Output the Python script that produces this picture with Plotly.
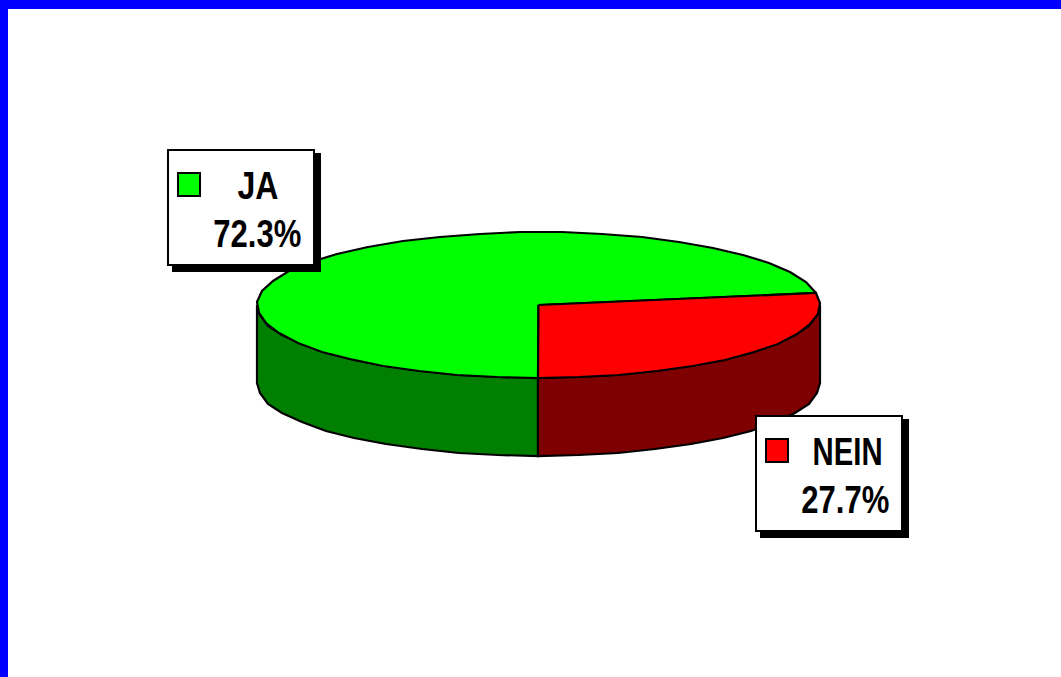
import numpy as np
import plotly.graph_objects as go

categories = ["JA", "NEIN"]
shares = [72.3, 27.7]
labels = ["72.3%", "27.7%"]
top_colors = ["#00FF00", "#FF0000"]
side_colors = ["#007F00", "#7F0000"]

W, H = 1061, 677
CX, CY, RX, RY, DEPTH = 538.5, 305.0, 281.5, 73.0, 78.0
FONT = "Liberation Sans"
STEPS_PER_TURN = 44
LINE_W = 2.2


def arc(start, end):
    n = max(2, int(abs(end - start) / 360 * STEPS_PER_TURN) + 1)
    t = np.radians(np.linspace(start, end, n))
    return np.round(CX + RX * np.cos(t)), np.round(CY + RY * np.sin(t))


red_sweep = shares[1] / sum(shares) * 360
green_sweep = shares[0] / sum(shares) * 360
start = 90.0  # screen-clockwise angle of the slice boundary at the front
red_end = start - red_sweep
green_end = red_end - green_sweep

fig = go.Figure()


def poly(x, y, fill):
    x, y = list(x), list(y)
    fig.add_trace(go.Scatter(
        x=x + x[:1], y=y + y[:1], mode="lines", fill="toself", fillcolor=fill,
        line=dict(color="black", width=LINE_W), hoverinfo="skip", showlegend=False))


# outer walls (visible only on the front half)
gx, gy = arc(start, 180)
poly(np.r_[gx, gx[::-1]], np.r_[gy, gy[::-1] + DEPTH], side_colors[0])
rx_, ry_ = arc(start, 0)
poly(np.r_[rx_, rx_[::-1]], np.r_[ry_, ry_[::-1] + DEPTH], side_colors[1])

# top faces
gx, gy = arc(red_end, green_end)
poly(np.r_[CX, gx], np.r_[CY, gy], top_colors[0])
rx_, ry_ = arc(start, red_end)
poly(np.r_[CX, rx_], np.r_[CY, ry_], top_colors[1])

shapes = [
    dict(type="rect", x0=0, x1=W, y0=0, y1=9, fillcolor="#0000FF", line_width=0),
    dict(type="rect", x0=0, x1=8, y0=0, y1=H, fillcolor="#0000FF", line_width=0),
]


def legend_box(x, y, cat, lab, col, cat_dx, lab_dx):
    bw, bh = 146, 115
    shapes.append(dict(type="rect", x0=x + 4, x1=x + bw + 7, y0=y + 3, y1=y + bh + 7,
                       fillcolor="black", line_width=0, layer="above"))
    shapes.append(dict(type="rect", x0=x, x1=x + bw, y0=y, y1=y + bh, fillcolor="white",
                       line=dict(color="black", width=2), layer="above"))
    shapes.append(dict(type="rect", x0=x + 10, x1=x + 32, y0=y + 23, y1=y + 46, fillcolor=col,
                       line=dict(color="black", width=2), layer="above"))
    font = dict(family=FONT, size=39, color="black", weight="bold")
    fig.add_annotation(x=x + cat_dx, y=y + 35, text=cat, showarrow=False,
                       xanchor="center", yanchor="middle", font=font)
    fig.add_annotation(x=x + lab_dx, y=y + 83, text=lab, showarrow=False,
                       xanchor="center", yanchor="middle", font=font)


legend_box(168, 150, categories[0], labels[0], top_colors[0], 89.5, 89)
legend_box(756, 416, categories[1], labels[1], top_colors[1], 91, 89)

fig.update_layout(
    width=W, height=H, margin=dict(l=0, r=0, t=0, b=0),
    paper_bgcolor="white", plot_bgcolor="white", shapes=shapes,
    xaxis=dict(range=[0, W], visible=False, fixedrange=True),
    yaxis=dict(range=[H, 0], visible=False, fixedrange=True),
    showlegend=False,
)

# The reference lettering is a condensed bold sans: squeeze the glyphs to its widths.
narrow_js = """
document.body.style.margin='0';
var widths={'JA':41,'NEIN':70,'72.3%':88,'27.7%':88};
document.querySelectorAll('.annotation-text').forEach(function(t){
  var w=widths[t.textContent];
  if(w){t.setAttribute('textLength',w);t.setAttribute('lengthAdjust','spacingAndGlyphs');}
});
"""
fig.write_html("out.html", config={"displayModeBar": False}, post_script=narrow_js)
